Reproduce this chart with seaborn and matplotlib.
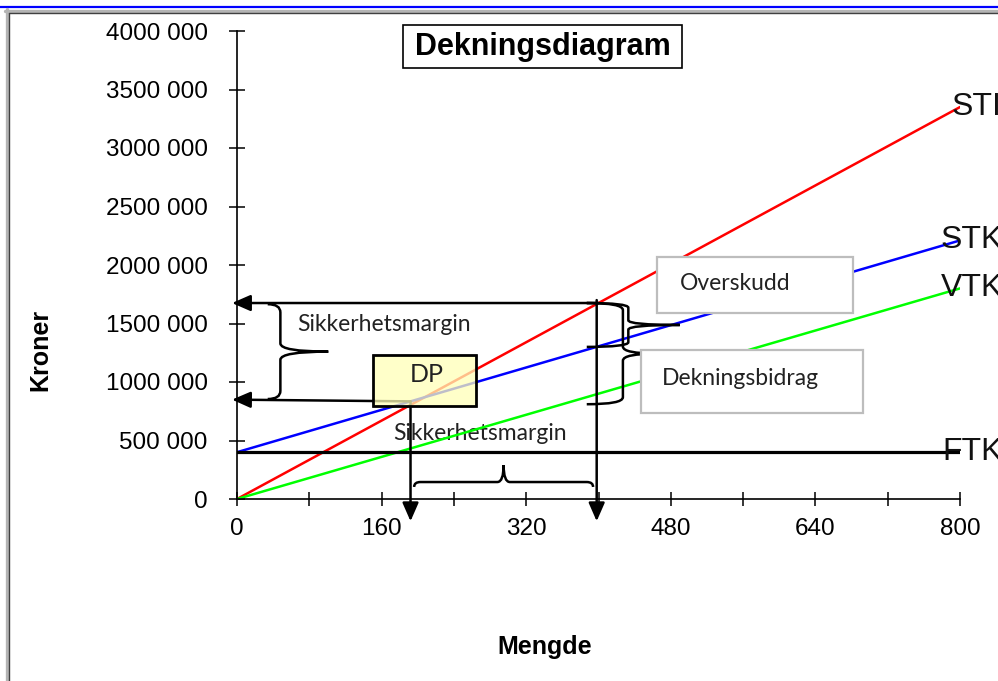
import numpy as np
import pandas as pd
import matplotlib
matplotlib.use("Agg")
import matplotlib.pyplot as plt
import seaborn as sns
from matplotlib.path import Path
from matplotlib.patches import PathPatch, Rectangle
from matplotlib.lines import Line2D

# ---------------- data ----------------
quantity = [0, 800]
sti = [0, 3350000]          # sales revenue (red)
stk = [400000, 2210000]     # total cost (blue)
vtk = [0, 1800000]          # variable cost (green)
ftk = [400000, 400000]      # fixed cost (black)
series_names = ["STI", "STK", "VTK", "FTK"]
series_colors = ["#ff0000", "#0000ff", "#00ff00", "#000000"]
x_breakeven = 192
x_sales = 400
x_ticks = [0, 80, 160, 240, 320, 400, 480, 560, 640, 720, 800]
x_tick_labels = ["0", "", "160", "", "320", "", "480", "", "640", "", "800"]
y_ticks = [0, 500000, 1000000, 1500000, 2000000, 2500000, 3000000, 3500000, 4000000]
y_tick_labels = ["0", "500 000", "1000 000", "1500 000", "2000 000",
                 "2500 000", "3000 000", "3500 000", "4000 000"]

df = pd.DataFrame({
    "Mengde": quantity * 4,
    "Kroner": sti + stk + vtk + ftk,
    "serie": [n for n in series_names for _ in quantity],
})

sns.set_style("ticks")
plt.rcParams["font.family"] = ["Liberation Sans", "DejaVu Sans"]
plt.rcParams["text.color"] = "black"
plt.rcParams["axes.labelcolor"] = "black"
plt.rcParams["xtick.color"] = "black"
plt.rcParams["ytick.color"] = "black"
CAL = ["Lato", "DejaVu Sans"]

W, H = 998, 681
fig = plt.figure(figsize=(W / 100, H / 100), dpi=100)
fig.patch.set_facecolor("white")


def fx(px):
    return px / W


def fy(py):
    return 1 - py / H


ax = fig.add_axes([fx(237), fy(499), fx(960) - fx(237), fy(31) - fy(499)])
ax.set_facecolor("none")

sns.lineplot(data=df, x="Mengde", y="Kroner", hue="serie", hue_order=series_names,
             palette=dict(zip(series_names, series_colors)), legend=False,
             ax=ax, linewidth=1.8)
for ln, name in zip(ax.lines, series_names):
    if name == "FTK":
        ln.set_linewidth(2.3)

ax.set_xlim(0, 800)
ax.set_ylim(0, 4000000)
ax.set_xticks(x_ticks)
ax.set_xticklabels(x_tick_labels)
ax.set_yticks(y_ticks)
ax.set_yticklabels(y_tick_labels)
ax.set_xlabel("")
ax.set_ylabel("")
for s in ["top", "right"]:
    ax.spines[s].set_visible(False)
for s in ["left", "bottom"]:
    ax.spines[s].set_linewidth(1.2)
    ax.spines[s].set_color("black")
ax.tick_params(axis="y", direction="inout", length=12, width=1.1, pad=15,
               labelsize=17.5, colors="black")
ax.tick_params(axis="x", direction="inout", length=10, width=1.1, pad=9,
               labelsize=17.5, colors="black")


def at(arr, x):
    return float(np.interp(x, quantity, arr))


y_sale = at(sti, x_sales)
y_sale_stk = at(stk, x_sales)
y_sale_vtk = at(vtk, x_sales)
y_be = at(stk, x_breakeven)

# series labels
label_pos = {"STI": (791, at(sti, 800)), "STK": (779, at(stk, 800)),
             "VTK": (779, at(vtk, 800)), "FTK": (781, at(ftk, 800))}
for name in series_names:
    lx, ly = label_pos[name]
    ax.text(lx, ly, name, fontsize=23, ha="left", va="center", color="#111111")

# arrows
arrow_kw = dict(arrowstyle="-|>,head_length=0.8,head_width=0.35", mutation_scale=14,
                color="black", lw=1.8, shrinkA=0, shrinkB=0)
ax.annotate("", xy=(-5.5, y_sale), xytext=(x_sales, y_sale), arrowprops=arrow_kw,
            annotation_clip=False)
ax.annotate("", xy=(-5.5, y_be + 15000), xytext=(x_breakeven, y_be), arrowprops=arrow_kw,
            annotation_clip=False)
ax.annotate("", xy=(x_breakeven, -190000), xytext=(x_breakeven, y_be), arrowprops=arrow_kw,
            annotation_clip=False)
ax.annotate("", xy=(x_sales - 2, -190000), xytext=(x_sales - 2, y_sale + 25000),
            arrowprops=arrow_kw, annotation_clip=False)


def vbrace(x_end, x_spine, x_tip, y_top, y_bot, r, lw=1.8):
    ym = (y_top + y_bot) / 2
    verts = [(x_end, y_top), (x_spine, y_top), (x_spine, y_top - r),
             (x_spine, ym + r),
             (x_spine, ym), (x_tip, ym),
             (x_spine, ym), (x_spine, ym - r),
             (x_spine, y_bot + r),
             (x_spine, y_bot), (x_end, y_bot)]
    codes = [Path.MOVETO, Path.CURVE3, Path.CURVE3, Path.LINETO, Path.CURVE3, Path.CURVE3,
             Path.CURVE3, Path.CURVE3, Path.LINETO, Path.CURVE3, Path.CURVE3]
    ax.add_patch(PathPatch(Path(verts, codes), fc="none", ec="black", lw=lw,
                           clip_on=False, zorder=4))


def hbrace(x_left, x_right, y_end, y_spine, y_tip, r, lw=1.8):
    xm = (x_left + x_right) / 2
    verts = [(x_left, y_end), (x_left, y_spine), (x_left + r, y_spine),
             (xm - r, y_spine),
             (xm, y_spine), (xm, y_tip),
             (xm, y_spine), (xm + r, y_spine),
             (x_right - r, y_spine),
             (x_right, y_spine), (x_right, y_end)]
    codes = [Path.MOVETO, Path.CURVE3, Path.CURVE3, Path.LINETO, Path.CURVE3, Path.CURVE3,
             Path.CURVE3, Path.CURVE3, Path.LINETO, Path.CURVE3, Path.CURVE3]
    ax.add_patch(PathPatch(Path(verts, codes), fc="none", ec="black", lw=lw,
                           clip_on=False, zorder=4))


# left brace (safety margin in kroner)
vbrace(34, 48, 101, y_sale - 10000, y_be + 20000, 70000)
# bottom brace (safety margin in quantity)
hbrace(x_breakeven + 4, x_sales - 6, 103000, 145000, 290000, 7)
# right braces
vbrace(x_sales - 13, x_sales + 27, x_sales + 66, y_sale, y_sale_vtk - 90000, 60000)
vbrace(x_sales - 13, x_sales + 33, x_sales + 90, y_sale, y_sale_stk - 5000, 40000)

# DP box
ax.add_patch(Rectangle((150.5, 795000), 113.9, 435800, fc="#ffffb8", ec="black",
                       lw=1.8, alpha=0.75, zorder=5))
ax.add_patch(Rectangle((150.5, 795000), 113.9, 435800, fc="none", ec="black",
                       lw=1.8, zorder=5))
ax.text(210, 1060000, "DP", fontsize=18, family=CAL, ha="center", va="center",
        color="#222222", zorder=6)

# text annotations
ax.text(66.4, 1495700, "Sikkerhetsmargin", fontsize=16.5, family=CAL, ha="left",
        va="center", color="#222222", zorder=6)
ax.text(172.6, 564100, "Sikkerhetsmargin", fontsize=16.5, family=CAL, ha="left",
        va="center", color="#222222", zorder=1)

ax.add_patch(Rectangle((464.7, 1589700), 216.9, 478700, fc="white", ec="#bdbdbd",
                       lw=1.6, zorder=5, clip_on=False))
ax.text(490, 1846000, "Overskudd", fontsize=16.5, family=CAL, ha="left", va="center",
        color="#222222", zorder=6)
ax.add_patch(Rectangle((447, 735000), 245.7, 538500, fc="white", ec="#bdbdbd",
                       lw=1.6, zorder=5, clip_on=False))
ax.text(470, 1034000, "Dekningsbidrag", fontsize=16.5, family=CAL, ha="left",
        va="center", color="#222222", zorder=6)

# title box
fig.add_artist(Rectangle((fx(403), fy(68)), fx(682) - fx(403), fy(25) - fy(68),
                         transform=fig.transFigure, fc="white", ec="black", lw=1.2))
fig.text((fx(403) + fx(682)) / 2, fy(47), "Dekningsdiagram", fontsize=22,
         fontweight="bold", ha="center", va="center")

# axis labels
fig.text(fx(40), fy(350), "Kroner", fontsize=18, fontweight="bold", rotation=90,
         ha="center", va="center")
fig.text(fx(545), fy(647), "Mengde", fontsize=18, fontweight="bold",
         ha="center", va="center")

# window-like frame
fig.add_artist(Line2D([0, 1], [fy(7), fy(7)], transform=fig.transFigure,
                      color="#0000ff", lw=1.6))
fig.add_artist(Line2D([fx(5), 1], [fy(10.5), fy(10.5)], transform=fig.transFigure,
                      color="#b4b4b4", lw=2.4))
fig.add_artist(Line2D([fx(6.5), fx(6.5)], [fy(9), 0], transform=fig.transFigure,
                      color="#b4b4b4", lw=2.4))
fig.add_artist(Line2D([fx(8.5), 1], [fy(13), fy(13)], transform=fig.transFigure,
                      color="#404040", lw=1.0))
fig.add_artist(Line2D([fx(9), fx(9)], [fy(13), 0], transform=fig.transFigure,
                      color="#404040", lw=1.0))

fig.savefig("out.png", dpi=100)
